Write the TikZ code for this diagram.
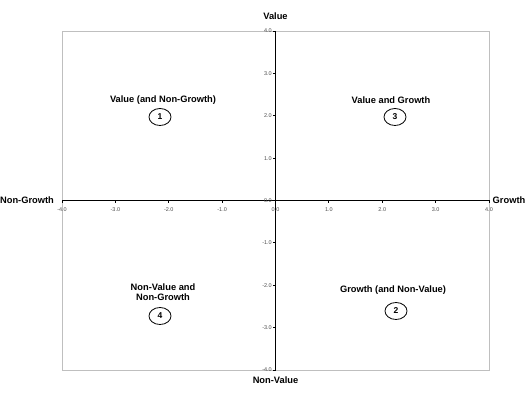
\documentclass[tikz,border=0pt]{standalone}
\usepackage{fontspec}
\setmainfont{Liberation Sans}
\usetikzlibrary{shapes.geometric}
\begin{document}
\begin{tikzpicture}[x=1pt,y=-1pt,
  lbl/.style={font=\bfseries\fontsize{9.3}{10.5}\selectfont, align=center},
  tick/.style={font=\fontsize{5.5}{5.5}\selectfont, text=black!70, inner sep=0pt},
  num/.style={draw, line width=0.8pt, ellipse, minimum width=22pt, minimum height=17pt, inner sep=0pt, font=\bfseries\fontsize{8.5}{8.5}\selectfont},
  ax/.style={line width=1.4pt, black}]
\useasboundingbox (0,0) rectangle (531,398);
\draw[black!25, line width=0.6pt] (62,31) rectangle (489,370);
\coordinate (L) at (62,200.5);
\coordinate (R) at (489,200.5);
\coordinate (T) at (275.5,31);
\coordinate (B) at (275.5,370);
\draw[ax] (L) -- (R);
\draw[ax] (T) -- (B);
\foreach \i in {-4,...,4} {
  \pgfmathsetmacro{\xx}{275.5+53.375*\i}
  \pgfmathsetmacro{\yy}{200.5-42.375*\i}
  \draw[line width=0.8pt] (\xx,200.5) -- (\xx,203);
  \draw[line width=0.8pt] (275.5,\yy) -- (273,\yy);
  \node[tick] at (\xx,210) {\i.0};
  \node[tick, anchor=east] at (272,\yy) {\i.0};
}
\node[lbl] (v) at (275.5,16) {Value};
\node[lbl] (nv) at (275.5,380) {Non-Value};
\node[lbl] (ng) at (27,200) {Non-Growth};
\node[lbl] (g) at (509,200) {Growth};
\node[lbl] (q1) at (163,100) {Value (and Non-Growth)};
\node[num] (n1) at (160,117) {1};
\node[lbl] (q3) at (391,100) {Value and Growth};
\node[num] (n3) at (395,117) {3};
\node[lbl, align=center] (q4) at (163,292) {Non-Value and\\Non-Growth};
\node[num] (n4) at (160,316) {4};
\node[lbl] (q2) at (393,290) {Growth (and Non-Value)};
\node[num] (n2) at (396,311) {2};
\end{tikzpicture}
\end{document}
